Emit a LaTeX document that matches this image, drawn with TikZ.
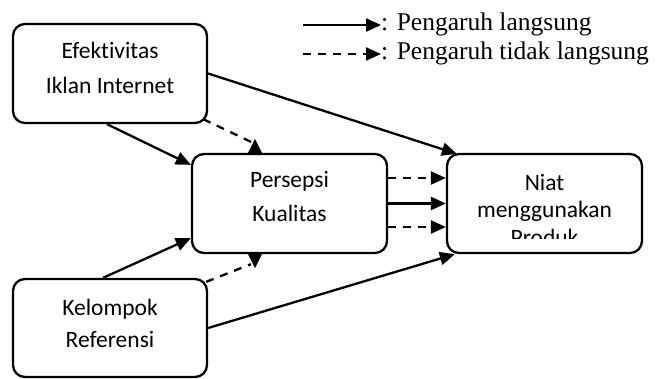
\documentclass[tikz,border=0pt]{standalone}
\usepackage{fontspec}
\setmainfont{Liberation Serif}
\newfontfamily\boxfont[Ligatures=NoCommon]{Carlito}
\usetikzlibrary{arrows.meta,calc}
\begin{document}
\begin{tikzpicture}[x=1pt,y=-1pt,
  box/.style={draw,line width=2.3pt,rounded corners=12pt,inner sep=0pt,minimum width=195pt,minimum height=99pt},
  btext/.style={font=\boxfont\fontsize{23.5}{28}\selectfont,inner sep=0pt,anchor=base},
  legtext/.style={font=\fontsize{25.5}{30}\selectfont,inner sep=0pt,anchor=base west},
  conn/.style={line width=2.3pt,-{Triangle[length=15pt,width=13pt]}},
  dconn/.style={line width=2.3pt,dash pattern=on 8pt off 7pt},
  dtip/.style={fill=black}]
\useasboundingbox (0,0) rectangle (661,378);

% boxes
\node[box,minimum width=194pt] (e) at (110,73.5) {};
\node[box] (p) at (289.5,203.5) {};
\node[box] (n) at (544.5,203.5) {};
\node[box,minimum width=194pt,minimum height=98pt] (k) at (110,328) {};

% texts
\node[btext] (e1) at (110,58) {Efektivitas};
\node[btext] (e2) at (110,93) {Iklan Internet};
\node[btext] (p1) at (289.5,187) {Persepsi};
\node[btext] (p2) at (289.5,221) {Kualitas};
\node[btext] (n1) at (544.5,190) {Niat};
\node[btext] (n2) at (544.5,217) {menggunakan};
\begin{scope}
  \clip (450,200) rectangle (640,238);
  \node[btext] (n3) at (544.5,245) {Produk};
\end{scope}
\node[btext] (k1) at (110,315) {Kelompok};
\node[btext] (k2) at (110,347) {Referensi};

% solid connectors
\draw[conn] (e.east) -- ([xshift=11pt,yshift=-1pt]n.north west);
\draw[conn] ([xshift=-3pt]e.south) -- ([yshift=-12pt]p.north west);
\draw[conn] ([xshift=-7pt]k.north) -- ([yshift=16pt]p.south west);
\draw[conn] (k.east) -- ([xshift=9pt]n.south west);
\draw[conn] (p.east) -- (n.west);

% dashed connectors between Persepsi and Niat
\draw[dconn,-{Triangle[length=15pt,width=13pt]}] ([yshift=25.5pt]p.east) -- ([yshift=25.5pt]n.west);
\draw[dconn,-{Triangle[length=15pt,width=13pt]}] ([yshift=-23.5pt]p.east) -- ([yshift=-23.5pt]n.west);

% dashed connectors with upright / inverted tips
\coordinate (pt1) at ([xshift=-34.5pt]p.north);
\coordinate (pt2) at ([xshift=-34.5pt]p.south);
\draw[dconn] ([xshift=-5pt,yshift=5pt]e.south east) -- ([xshift=-4pt,yshift=11pt]pt1);
\fill[dtip] (pt1) ++(-7,0) -- ++(14,0) -- ++(-7,-14) -- cycle;
\draw[dconn] ([xshift=-2pt,yshift=-4pt]k.north east) -- ([xshift=-4pt,yshift=-10pt]pt2);
\fill[dtip] (pt2) ++(-7,0) -- ++(14,0) -- ++(-7,14) -- cycle;

% legend
\coordinate (l1a) at (303,25);
\coordinate (l1b) at (381,25);
\coordinate (l2a) at (303,54);
\coordinate (l2b) at (381,54);
\draw[conn] (l1a) -- (l1b);
\draw[dconn,-{Triangle[length=15pt,width=13pt]}] (l2a) -- (l2b);
\node[legtext] (t1) at (381,30) {: Pengaruh langsung};
\node[legtext] (t2) at (381,59) {: Pengaruh tidak langsung};
\end{tikzpicture}
\end{document}
